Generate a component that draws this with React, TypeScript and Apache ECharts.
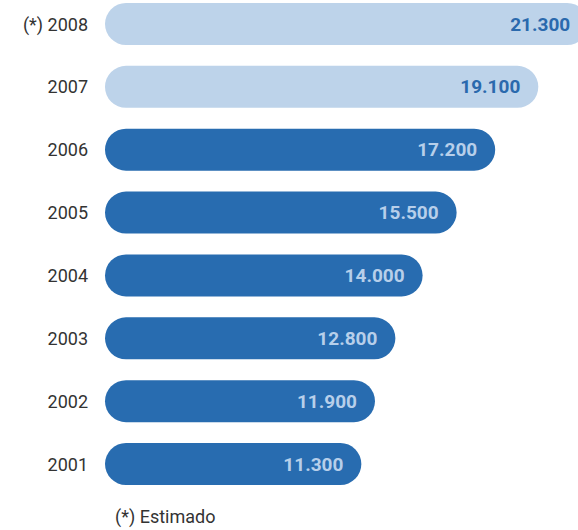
import React, { useEffect, useRef } from "react";
import * as echarts from "echarts";

const years = ["2001", "2002", "2003", "2004", "2005", "2006", "2007", "(*) 2008"];
const values = [11300, 11900, 12800, 14000, 15500, 17200, 19100, 21300];
const estimated = [false, false, false, false, false, false, true, true];
const footnote = "(*) Estimado";

const DARK = "#286cb0";
const LIGHT = "#bdd3ea";
const DARK_TEXT = "#2a69ad";
const LIGHT_TEXT = "#b7cfea";
const FONT = "Roboto, sans-serif";

function fmt(v: number): string {
  return String(v).replace(/\B(?=(\d{3})+(?!\d))/g, ".");
}

export default function App() {
  const ref = useRef<HTMLDivElement>(null);
  useEffect(() => {
    document.body.style.margin = "0";
    if (!ref.current) return;
    const chart = echarts.init(ref.current, undefined, { renderer: "svg" });
    chart.setOption({
      animation: false,
      grid: { left: 105, right: 0, top: 24, bottom: 66, containLabel: false },
      xAxis: { type: "value", min: 0, max: 20850, show: false },
      yAxis: {
        type: "category",
        data: years,
        boundaryGap: false,
        axisLine: { show: false },
        axisTick: { show: false },
        splitLine: { show: false },
        axisLabel: {
          margin: 17,
          fontFamily: FONT,
          fontSize: 18,
          color: "#333333",
        },
      },
      series: [
        {
          type: "bar",
          clip: false,
          barWidth: 42,
          data: values.map((v, i) => ({
            value: v,
            itemStyle: { color: estimated[i] ? LIGHT : DARK, borderRadius: 21 },
            label: { color: estimated[i] ? DARK_TEXT : LIGHT_TEXT },
          })),
          label: {
            show: true,
            position: "insideRight",
            distance: 18,
            fontFamily: FONT,
            fontWeight: "bold",
            fontSize: 19,
            formatter: (p: any) => fmt(p.value),
          },
        },
      ],
      graphic: [
        {
          type: "text",
          left: 115,
          top: 507,
          style: {
            text: footnote,
            fontFamily: FONT,
            fontSize: 18,
            fill: "#333333",
          },
        },
      ],
    });
    return () => chart.dispose();
  }, []);
  return <div ref={ref} style={{ width: 578, height: 530 }} />;
}
